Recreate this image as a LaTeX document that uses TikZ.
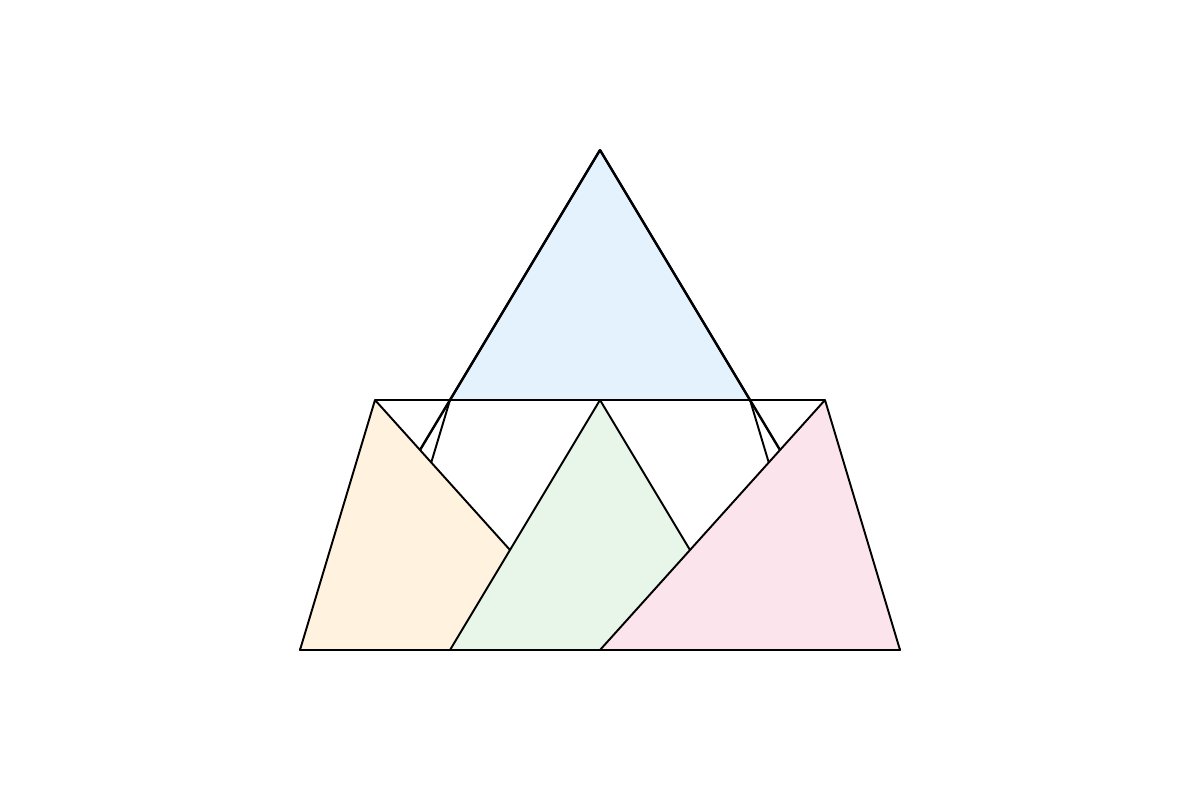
\documentclass[tikz,border=0pt]{standalone}
\usepackage{xcolor}
\definecolor{myblue}{HTML}{E3F2FD}
\definecolor{myorange}{HTML}{FFF3E0}
\definecolor{mygreen}{HTML}{E8F5E9}
\definecolor{mypink}{HTML}{FCE4EC}
\begin{document}
\begin{tikzpicture}[x=0.02cm, y=-0.02cm, line width=1.1pt, line join=round]
    \useasboundingbox (0,0) rectangle (1200,800);
    \coordinate (apex) at (600,150);
    \coordinate (bl) at (300,650);
    \coordinate (br) at (900,650);
    \coordinate (tl) at (375,400);
    \coordinate (tr) at (825,400);
    \coordinate (ml) at (450,400);
    \coordinate (mr) at (750,400);
    \coordinate (mid) at (600,400);
    \coordinate (bm) at (600,650);
    % top triangle and its hidden sides
    \fill[myblue, draw=black] (ml) -- (apex) -- (mr) -- cycle;
    \draw[line width=1.4pt] (apex) -- (bl);
    \draw[line width=1.4pt] (apex) -- (br);
    \draw (ml) -- (375,650);
    \draw (mr) -- (825,650);
    \draw (tl) -- (tr);
    % lower triangles
    \fill[myorange, draw=black] (tl) -- (bl) -- (bm) -- cycle;
    \fill[mygreen, draw=black] (mid) -- (450,650) -- (750,650) -- cycle;
    \fill[mypink, draw=black] (tr) -- (br) -- (bm) -- cycle;
    \draw (bl) -- (br);
\end{tikzpicture}
\end{document}
